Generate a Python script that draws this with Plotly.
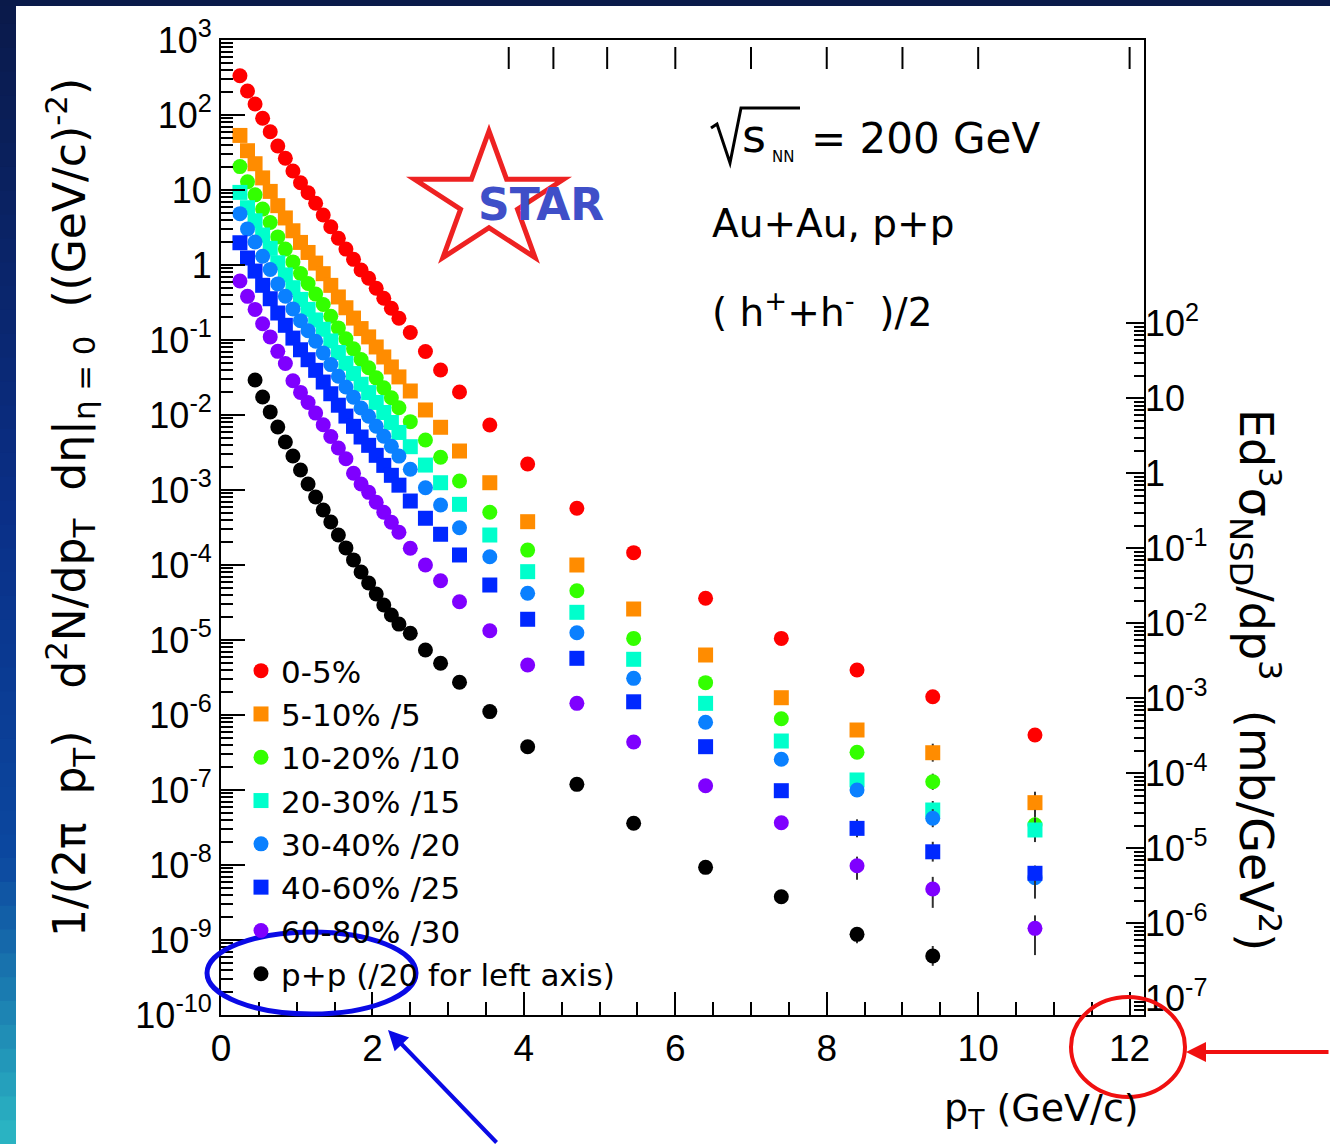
import math
import plotly.graph_objects as go

# ---------------------------------------------------------------- data
pt_auau = [0.25, 0.35, 0.45, 0.55, 0.65, 0.75, 0.85, 0.95, 1.05, 1.15, 1.25,
           1.35, 1.45, 1.55, 1.65, 1.75, 1.85, 1.95, 2.05, 2.15, 2.25, 2.35,
           2.5, 2.7, 2.9, 3.15, 3.55, 4.05, 4.7, 5.45, 6.4, 7.4, 8.4, 9.4, 10.75]
pt_pp = pt_auau[2:34]

cent_0_5 = [334, 209, 140, 90.4, 59.9, 38.6, 26.5, 17.9, 12.5, 9.2, 6.65, 4.64,
            3.24, 2.27, 1.63, 1.19, 0.858, 0.665, 0.489, 0.36, 0.265, 0.195,
            0.126, 0.0703, 0.0398, 0.0203, 0.00736, 0.00222, 5.70e-4, 1.46e-4,
            3.60e-5, 1.05e-5, 3.98e-6, 1.75e-6, 5.41e-7]
cent_5_10 = [53.4, 33.4, 22.4, 14.5, 9.58, 6.18, 4.24, 2.86, 2.0, 1.47, 1.06,
             0.766, 0.535, 0.375, 0.269, 0.196, 0.142, 0.11, 0.0807, 0.0594,
             0.0437, 0.0322,
             0.0209, 0.01167, 0.00686, 0.00331, 0.00125, 3.78e-4, 1.0e-4,
             2.59e-5, 6.31e-6, 1.70e-6, 6.31e-7, 3.14e-7, 6.78e-8]
cent_10_20 = [20.5, 12.9, 8.61, 5.56, 3.68, 2.37, 1.63, 1.10, 0.769, 0.566,
              0.409, 0.297, 0.207, 0.145, 0.104, 0.0762, 0.0549, 0.0426,
              0.0313, 0.023, 0.017, 0.0125,
              0.00815, 0.00464, 0.00273, 0.00132, 5.05e-4, 1.58e-4, 4.54e-5,
              1.05e-5, 2.70e-6, 8.93e-7, 3.18e-7, 1.29e-7, 3.44e-8]
cent_20_30 = [9.29, 5.81, 3.89, 2.51, 1.67, 1.07, 0.737, 0.498, 0.348, 0.256,
              0.185, 0.139, 0.0972, 0.0681, 0.0489, 0.0357, 0.0257, 0.0199,
              0.0147, 0.0108, 0.00795, 0.00585,
              0.00378, 0.00215, 0.00125, 6.44e-4, 2.51e-4, 8.15e-5, 2.34e-5,
              5.53e-6, 1.43e-6, 4.50e-7, 1.36e-7, 5.41e-8, 2.93e-8]
cent_30_40 = [4.84, 3.03, 2.03, 1.31, 0.869, 0.56, 0.384, 0.26, 0.181, 0.133,
              0.0964, 0.0673, 0.047, 0.0329, 0.0236, 0.0173, 0.0124, 0.00964,
              0.00709, 0.00522, 0.00384, 0.00283,
              0.00189, 0.00107, 6.31e-4, 3.14e-4, 1.29e-4, 4.20e-5, 1.25e-5,
              3.08e-6, 8.0e-7, 2.57e-7, 1.0e-7, 4.20e-8, 6.78e-9]
cent_40_60 = [1.98, 1.24, 0.83, 0.536, 0.355, 0.229, 0.157, 0.106, 0.0741,
              0.0546, 0.0394, 0.0275, 0.0192, 0.0135, 0.00967, 0.00706,
              0.00509, 0.00394, 0.0029, 0.00213, 0.00157, 0.00116,
              7.13e-4, 4.20e-4, 2.57e-4, 1.36e-4, 5.41e-5, 1.89e-5, 5.70e-6,
              1.50e-6, 3.78e-7, 9.79e-8, 3.08e-8, 1.50e-8, 7.75e-9]
cent_60_80 = [0.611, 0.382, 0.256, 0.165, 0.11, 0.0706, 0.0485, 0.0286, 0.02,
              0.0147, 0.0106, 0.00742, 0.00518, 0.00363, 0.00261, 0.00167,
              0.0012, 9.31e-4, 6.85e-4, 5.04e-4, 3.71e-4, 2.73e-4,
              1.67e-4, 1.0e-4, 6.18e-5, 3.24e-5, 1.33e-5, 4.64e-6, 1.43e-6,
              4.37e-7, 1.14e-7, 3.66e-8, 9.79e-9, 4.79e-9, 1.43e-9]
pp = [0.0293, 0.0174, 0.011, 0.00692, 0.00437, 0.00284, 0.00185, 0.0012,
      8.07e-4, 5.41e-4, 3.74e-4, 2.51e-4, 1.69e-4, 1.17e-4, 8.07e-5, 5.75e-5,
      4.10e-5, 2.93e-5, 2.15e-5, 1.63e-5,
      1.23e-5, 7.36e-6, 4.89e-6, 2.73e-6, 1.11e-6, 3.78e-7, 1.19e-7, 3.60e-8,
      9.31e-9, 3.78e-9, 1.19e-9, 6.12e-10]

# relative statistical errors (up, down) of the last high-pT points
# (8.4, 9.4, 10.75 GeV/c for Au+Au; 8.4, 9.4 GeV/c for p+p)
err_tail = {
    "0-5%":       ([0.05, 0.08, 0.12], [0.05, 0.07, 0.11]),
    "5-10% /5":   ([0.12, 0.32, 0.40], [0.11, 0.24, 0.29]),
    "10-20% /10": ([0.10, 0.28, 0.58], [0.09, 0.22, 0.37]),
    "20-30% /15": ([0.12, 0.32, 0.45], [0.11, 0.24, 0.31]),
    "30-40% /20": ([0.12, 0.32, 0.45], [0.11, 0.24, 0.31]),
    "40-60% /25": ([0.32, 0.36, 0.24], [0.24, 0.26, 0.54]),
    "60-80% /30": ([0.32, 0.45, 0.49], [0.35, 0.44, 0.56]),
    "p+p (/20 for left axis)": ([0.20, 0.36], [0.24, 0.26]),
}

# cross-section scale of the right-hand axis: sigma_NSD = 30 mb, p+p shown /20
pp_axis_factor = 600.0

series = [
    ("0-5%",                    pt_auau, cent_0_5,   "circle", "#ff0000"),
    ("5-10% /5",                pt_auau, cent_5_10,  "square", "#ff8c00"),
    ("10-20% /10",              pt_auau, cent_10_20, "circle", "#33ff00"),
    ("20-30% /15",              pt_auau, cent_20_30, "square", "#00ffcc"),
    ("30-40% /20",              pt_auau, cent_30_40, "circle", "#0a80ff"),
    ("40-60% /25",              pt_auau, cent_40_60, "square", "#0028ff"),
    ("60-80% /30",              pt_auau, cent_60_80, "circle", "#7f00ff"),
    ("p+p (/20 for left axis)", pt_pp,   pp,         "circle", "#000000"),
]

# ---------------------------------------------------------------- geometry
W, H = 1330, 1144
L, R, T, B = 221, 1144, 40, 1015
FONT = "Liberation Sans, Arial, Helvetica, sans-serif"
TFONT = "DejaVu Sans, Liberation Sans, sans-serif"


def px(x):
    return (x - L) / (R - L)


def py(y):
    return (B - y) / (B - T)


fig = go.Figure()
for name, x, y, sym, col in series:
    up_rel, dn_rel = err_tail[name]
    k = len(up_rel)
    up = [0.0] * (len(y) - k) + [v * f for v, f in zip(y[-k:], up_rel)]
    dn = [0.0] * (len(y) - k) + [v * f for v, f in zip(y[-k:], dn_rel)]
    fig.add_trace(go.Scatter(
        x=x, y=y, mode="markers", name=name,
        marker=dict(symbol=sym, size=15, color=col, line=dict(width=0)),
        error_y=dict(type="data", symmetric=False, array=up, arrayminus=dn,
                     color="#303030", thickness=2, width=0),
    ))

# ---------------------------------------------------------------- axes
left_exp = list(range(-10, 4))
left_vals = [10.0 ** k for k in left_exp]


def dec_label(k):
    if k == 0:
        return "1"
    if k == 1:
        return "10"
    return "10<sup>%d</sup>" % k


left_text = [dec_label(k) for k in left_exp]
left_minor = [m * 10.0 ** k for k in range(-10, 3) for m in range(2, 10)]

right_exp = list(range(-7, 3))
right_vals = [10.0 ** k for k in right_exp]
right_text = [dec_label(k) for k in right_exp]
right_minor = [m * 10.0 ** k for k in range(-8, 2) for m in range(2, 10)
               if 6e-8 <= m * 10.0 ** k <= 100]

fig.update_layout(
    width=W, height=H,
    margin=dict(l=L, r=W - R, t=T, b=H - B, pad=0),
    paper_bgcolor="white", plot_bgcolor="white",
    font=dict(family=FONT, color="black"),
    showlegend=True,
    legend=dict(x=px(241), y=py(644), xanchor="left", yanchor="top",
                bgcolor="rgba(0,0,0,0)", borderwidth=0,
                font=dict(size=31, family=TFONT), itemwidth=30,
                tracegroupgap=0),
    xaxis=dict(range=[0, 12.19], showgrid=False, zeroline=False,
               showline=True, linecolor="black", linewidth=2, mirror=True,
               ticks="inside", tickmode="array",
               tickvals=[0, 2, 4, 6, 8, 10, 12], ticklen=23, tickwidth=1.5,
               tickcolor="black", tickfont=dict(size=37, family=FONT),
               minor=dict(tickmode="array",
                          tickvals=[v / 2 for v in range(1, 25) if v % 4],
                          ticklen=13, tickwidth=1.5, tickcolor="black",
                          ticks="inside")),
    yaxis=dict(type="log", range=[-10, 3], showgrid=False, zeroline=False,
               showline=True, linecolor="black", linewidth=2, mirror=True,
               ticks="inside", tickmode="array", tickvals=left_vals,
               ticktext=left_text, ticklen=24, tickwidth=1.5,
               tickcolor="black", tickfont=dict(size=36, family=FONT),
               minor=dict(tickmode="array", tickvals=left_minor, ticklen=12,
                          tickwidth=1.5, tickcolor="black", ticks="inside")),
    yaxis2=dict(type="log", overlaying="y", side="right", anchor="x",
                range=[-10 + math.log10(pp_axis_factor),
                       3 + math.log10(pp_axis_factor)],
                showgrid=False, zeroline=False, showline=False,
                ticks="inside", tickmode="array", tickvals=right_vals,
                ticktext=right_text, ticklen=18, tickwidth=1.5,
                tickcolor="black", tickfont=dict(size=36, family=FONT),
                minor=dict(tickmode="array", tickvals=right_minor, ticklen=10,
                           tickwidth=1.5, tickcolor="black", ticks="inside")),
)

# p+p in cross-section units on the right-hand axis (coincides with the /20 points)
fig.add_trace(go.Scatter(x=pt_pp, y=[v * pp_axis_factor for v in pp],
                         yaxis="y2", mode="markers",
                         marker=dict(size=15, color="#000000", opacity=0),
                         showlegend=False, hoverinfo="skip"))

# ---------------------------------------------------------------- frame and logo
shapes = []
stops = [(0.0, (10, 26, 74)), (0.45, (10, 48, 136)), (0.75, (12, 72, 160)),
         (1.0, (44, 184, 196))]


def grad(t):
    for (t0, c0), (t1, c1) in zip(stops[:-1], stops[1:]):
        if t <= t1:
            f = (t - t0) / (t1 - t0)
            return "rgb(%d,%d,%d)" % tuple(int(a + (b - a) * f) for a, b in zip(c0, c1))
    return "rgb(%d,%d,%d)" % stops[-1][1]


n = 48
for i in range(n):
    y0 = H * i / n
    y1 = H * (i + 1) / n + 1
    shapes.append(dict(type="rect", xref="paper", yref="paper",
                       x0=px(0), x1=px(16), y0=py(y1), y1=py(y0),
                       fillcolor=grad((i + 0.5) / n), line=dict(width=0),
                       layer="above"))
shapes.append(dict(type="rect", xref="paper", yref="paper", x0=px(0), x1=px(W),
                   y0=py(6), y1=py(0), fillcolor="rgb(10,26,74)",
                   line=dict(width=0), layer="above"))

# stray tick marks hanging under the top frame line
for xv in [3.8, 4.39, 5.1, 6.0, 7.0, 8.0, 9.0, 10.0, 12.0]:
    shapes.append(dict(type="line", xref="x", yref="paper", x0=xv, x1=xv,
                       y0=py(69), y1=py(47), line=dict(color="black", width=2)))

# STAR logo star outline
cx, cy, Ro, sx = 489, 201, 70, 1.12
Ri = Ro * 0.382
pts = []
for k in range(10):
    ang = math.radians(90 + 36 * k)
    r = Ro if k % 2 == 0 else Ri
    pts.append((cx + sx * r * math.cos(ang), cy - r * math.sin(ang)))
path = "M " + " L ".join("%.5f,%.5f" % (px(a), py(b)) for a, b in pts) + " Z"
shapes.append(dict(type="path", xref="paper", yref="paper", path=path,
                   line=dict(color="#ee2222", width=5), layer="above"))

# square-root sign
rad = [(711, 128), (717, 124), (730, 163), (741, 108), (800, 108)]
shapes.append(dict(type="path", xref="paper", yref="paper",
                   path="M " + " L ".join("%.5f,%.5f" % (px(a), py(b)) for a, b in rad),
                   line=dict(color="black", width=3)))

# highlight ellipses
shapes.append(dict(type="circle", xref="paper", yref="paper",
                   x0=px(207), x1=px(416), y0=py(1014), y1=py(932),
                   line=dict(color="#0a0ae6", width=5)))
shapes.append(dict(type="circle", xref="paper", yref="paper",
                   x0=px(1071), x1=px(1185), y0=py(1097), y1=py(997),
                   line=dict(color="#f01010", width=4)))
fig.update_layout(shapes=shapes)

# ---------------------------------------------------------------- text
ann = []


def text(x, y, s, size, family=TFONT, color="black", **kw):
    d = dict(xref="paper", yref="paper", x=px(x), y=py(y), text=s,
             showarrow=False, font=dict(size=size, family=family, color=color),
             xanchor="left", yanchor="middle")
    d.update(kw)
    ann.append(d)


text(740, 136, "s", 46)
text(770, 157, "NN", 15)
text(809, 138, "= 200 GeV", 42)
text(710, 224, "Au+Au, p+p", 39)
text(710, 310, "( h<sup>+</sup>+h<sup>-</sup>  )/2", 39)
text(541, 204, "<b>STAR</b>", 44, color="#3f4fc8", xanchor="center")

text(1141, 1110, "p<sub>T</sub> (GeV/c)", 38, xanchor="right")
text(70, 508,
     "1/(2π  p<sub>T</sub>)   d<sup>2</sup>N/dp<sub>T</sub>  dη|<sub>η = 0</sub>  "
     "((GeV/c)<sup>-2</sup>)", 44, xanchor="center", textangle=-90)
text(1256, 680, "Ed<sup>3</sup>σ<sub>NSD</sub>/dp<sup>3</sup>  (mb/GeV<sup>2</sup>)",
     46, xanchor="center", textangle=90)

# arrows pointing at the highlighted regions
ann.append(dict(xref="paper", yref="paper", x=px(388), y=py(1030), ax=110,
                ay=116, text="", showarrow=True, arrowhead=2, arrowsize=1,
                arrowwidth=4, arrowcolor="#0a0ae6"))
ann.append(dict(xref="paper", yref="paper", x=px(1186), y=py(1052), ax=150,
                ay=0, text="", showarrow=True, arrowhead=2, arrowsize=1,
                arrowwidth=4, arrowcolor="#f01010"))
fig.update_layout(annotations=ann)

fig.write_html("out.html")
